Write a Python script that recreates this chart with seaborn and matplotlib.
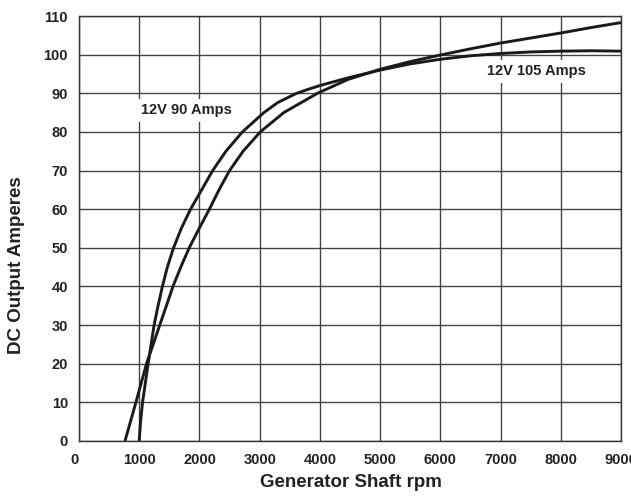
import matplotlib
matplotlib.use("Agg")
import matplotlib.pyplot as plt
import seaborn as sns
import pandas as pd

# Curve "B" (steep start, saturating ~101 A)
rpm_b = [1000, 1022, 1055, 1148, 1247, 1313, 1385, 1467, 1570, 1698, 1852, 2000, 2220, 2440, 2714, 3070, 3300,
         3600, 3800, 4000, 4470, 5000, 5500, 6000, 6500, 7000, 7500, 8000, 8500, 9000]
amps_b = [0, 5, 10, 20, 30, 35, 40, 45, 50, 55, 60, 64.0, 70, 75, 80, 85, 87.6,
          89.9, 91.0, 92.0, 94.0, 96.0, 97.6, 98.8, 99.7, 100.3, 100.7, 100.9, 101.0, 100.9]

# Curve "A" (gentler start, keeps rising to ~108 A)
rpm_a = [764, 945, 1121, 1341, 1451, 1560, 1690, 1830, 1995, 2165, 2325, 2500, 2725, 3010, 3400, 3960,
         4470, 5000, 5500, 6000, 6500, 7000, 7500, 8000, 8500, 9000]
amps_a = [0, 10, 20, 30, 35, 40, 45, 50, 55, 60, 65, 70, 75, 80, 85, 90,
          93.6, 96.2, 98.2, 99.9, 101.5, 103.0, 104.3, 105.6, 107.0, 108.3]

x_ticks = [0, 1000, 2000, 3000, 4000, 5000, 6000, 7000, 8000, 9000]
y_ticks = [0, 10, 20, 30, 40, 50, 60, 70, 80, 90, 100, 110]

label_90 = "12V 90 Amps"
label_105 = "12V 105 Amps"
x_title = "Generator Shaft rpm"
y_title = "DC Output Amperes"

sns.set_theme(style="white")
plt.rcParams["font.family"] = ["Liberation Sans", "DejaVu Sans"]
plt.rcParams["font.weight"] = "bold"

df = pd.concat([
    pd.DataFrame({"rpm": rpm_b, "amps": amps_b, "curve": "B"}),
    pd.DataFrame({"rpm": rpm_a, "amps": amps_a, "curve": "A"}),
])

fig = plt.figure(figsize=(6.31, 4.96), dpi=100)
ax = fig.add_axes([79 / 631, 1 - 441 / 496, 542 / 631, 425 / 496])

sns.lineplot(data=df, x="rpm", y="amps", hue="curve", units="curve", estimator=None,
             sort=False, palette={"A": "#1a1a1a", "B": "#1a1a1a"}, linewidth=2.1,
             legend=False, ax=ax, zorder=5, solid_joinstyle="round", solid_capstyle="butt")

ax.set_xlim(0, 9000)
ax.set_ylim(0, 110)
ax.set_xticks(x_ticks)
ax.set_yticks(y_ticks)
ax.set_xticklabels([str(v) for v in x_ticks], fontsize=10.5, fontweight="bold", color="#222222")
ax.set_yticklabels([str(v) for v in y_ticks], fontsize=10.5, fontweight="bold", color="#222222")
ax.get_xticklabels()[0].set_horizontalalignment("right")
ax.tick_params(axis="x", length=0, pad=9)
ax.tick_params(axis="y", length=0, pad=8)

ax.grid(True, color="#444444", linewidth=1.0)
for s in ax.spines.values():
    s.set_visible(True)
    s.set_color("#333333")
    s.set_linewidth(1.0)

ax.set_xlabel(x_title, fontsize=13.5, fontweight="bold", color="#222222")
ax.set_ylabel(y_title, fontsize=13.5, fontweight="bold", color="#222222")
ax.xaxis.set_label_coords(0.502, -0.078)
ax.yaxis.set_label_coords(-0.100, 0.414)

bb = dict(boxstyle="square,pad=0.3", facecolor="white", edgecolor="none")
ax.text(1029, 85.6, label_90, fontsize=10.5, fontweight="bold", color="#222222",
        ha="left", va="center", bbox=bb, zorder=4)
ax.text(6767, 95.7, label_105, fontsize=10.5, fontweight="bold", color="#222222",
        ha="left", va="center", bbox=bb, zorder=4)

fig.savefig("out.png", dpi=100)
